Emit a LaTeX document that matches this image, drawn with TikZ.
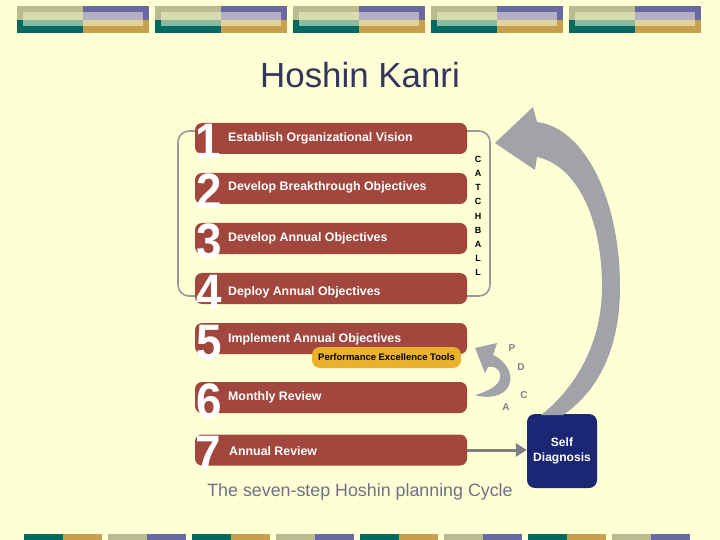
\documentclass[tikz,border=0pt]{standalone}
\usepackage{fontspec}
\setmainfont{Liberation Sans}
\usetikzlibrary{arrows.meta}
\definecolor{bgcream}{HTML}{FFFFD6}
\definecolor{stepred}{HTML}{A2473D}
\definecolor{navyblue}{HTML}{1B2674}
\definecolor{arrowgrey}{HTML}{A2A3A8}
\definecolor{linkgrey}{HTML}{7E7F84}
\definecolor{toolgold}{HTML}{EAB12A}
\definecolor{titleblue}{HTML}{34355F}
\definecolor{captiongrey}{HTML}{707089}
\definecolor{barkhaki}{HTML}{BABB8F}
\definecolor{barkhakilt}{HTML}{DADAB0}
\definecolor{barpurple}{HTML}{6A68A0}
\definecolor{barpurplelt}{HTML}{B2B0C2}
\definecolor{barteal}{HTML}{006A62}
\definecolor{bartealt}{HTML}{8ABAA2}
\definecolor{bargold}{HTML}{C6A04C}
\definecolor{bargoldlt}{HTML}{E2D29A}
\tikzset{
  stepbox/.style={fill=stepred,rounded corners=7bp,minimum width=272bp,minimum height=31bp,inner sep=0pt},
  steptext/.style={anchor=base west,text=white,inner sep=0pt,font=\bfseries\fontsize{12.4}{14}\selectfont},
  stepnum/.style={anchor=base,text=white,inner sep=0pt,xscale=0.92,font=\bfseries\fontsize{50}{50}\selectfont},
  toolbox/.style={fill=toolgold,rounded corners=8bp,minimum width=149bp,minimum height=21bp,inner sep=0pt,font=\bfseries\fontsize{9.5}{11}\selectfont},
  selfbox/.style={fill=navyblue,rounded corners=8bp,minimum width=70bp,minimum height=74bp,inner sep=0pt,text=white,align=center,font=\bfseries\fontsize{12.1}{15}\selectfont},
  pdca/.style={text=linkgrey,inner sep=0pt,font=\bfseries\fontsize{10}{11}\selectfont},
  linkarrow/.style={draw=linkgrey,line width=3bp,-{Triangle[length=11bp,width=13bp]}},
}
\begin{document}
\begin{tikzpicture}[x=1bp,y=-1bp]
  \fill[bgcream] (0,0) rectangle (720,540);
  \useasboundingbox (0,0) rectangle (720,540);
  % top and bottom bars
  \foreach \x in {17,155,293,431,569}{
    \fill[barkhaki] (\x,6) rectangle ++(66,14);
    \fill[barteal] (\x,20) rectangle ++(66,13);
    \fill[barpurple] (\x+66,6) rectangle ++(66,14);
    \fill[bargold] (\x+66,20) rectangle ++(66,13);
    \fill[barkhakilt] (\x+6,12) rectangle ++(60,8);
    \fill[bartealt] (\x+6,20) rectangle ++(60,6);
    \fill[barpurplelt] (\x+66,12) rectangle ++(60,8);
    \fill[bargoldlt] (\x+66,20) rectangle ++(60,6);
  }
  \foreach \x in {24,192,360,528}{
    \fill[barteal] (\x,534) rectangle ++(39,6);
    \fill[bargold] (\x+39,534) rectangle ++(39,6);
  }
  \foreach \x in {108,276,444,612}{
    \fill[barkhaki] (\x,534) rectangle ++(39,6);
    \fill[barpurple] (\x+39,534) rectangle ++(39,6);
  }
  \node[text=titleblue,anchor=base,inner sep=0pt,font=\fontsize{35}{40}\selectfont] (title) at (360,88) {Hoshin Kanri};
  % catchball bracket
  \draw[draw=linkgrey!80,line width=1.6bp,rounded corners=11bp] (178,131) rectangle (490,296);
  \node[align=center,inner sep=0pt,font=\bfseries\fontsize{9}{14.25}\selectfont] (catchball) at (478,216) {C\\A\\T\\C\\H\\B\\A\\L\\L};
  % steps
  \node[stepbox] (s1) at (331,138.5) {};
  \node[stepbox] (s2) at (331,188.5) {};
  \node[stepbox] (s3) at (331,238.5) {};
  \node[stepbox] (s4) at (331,288.5) {};
  \node[stepbox] (s5) at (331,338.5) {};
  \node[stepbox] (s6) at (331,397.5) {};
  \node[stepbox] (s7) at (331,450) {};
  \node[stepnum] (n1) at (208,159) {1};
  \node[stepnum] (n2) at (209,209) {2};
  \node[stepnum] (n3) at (209,259) {3};
  \node[stepnum] (n4) at (209,309) {4};
  \node[stepnum] (n5) at (209,359) {5};
  \node[stepnum] (n6) at (209,418) {6};
  \node[stepnum] (n7) at (208,470) {7};
  \node[steptext] (t1) at (228,141.7) {Establish Organizational Vision};
  \node[steptext] (t2) at (228,191) {Develop Breakthrough Objectives};
  \node[steptext] (t3) at (228,241.7) {Develop Annual Objectives};
  \node[steptext] (t4) at (228,295) {Deploy Annual Objectives};
  \node[steptext] (t5) at (228,342) {Implement Annual Objectives};
  \node[steptext] (t6) at (228,400.7) {Monthly Review};
  \node[steptext] (t7) at (229,455) {Annual Review};
  \node[toolbox] (tools) at (386.5,357.5) {Performance Excellence Tools};
  % self diagnosis and the cycle arrows
  \node[selfbox] (self) at (562,451) {Self\\Diagnosis};
  \draw[linkarrow] (s7.east) -- (s7.east -| self.west);
  \fill[arrowgrey] (537,122) .. controls (585,128) and (620,200) .. (620,287)
    .. controls (620,350) and (597,392) .. (563,415) -- (541,415)
    .. controls (578,386) and (602,340) .. (602,287)
    .. controls (602,215) and (575,165) .. (537,157)
    -- (535,170) -- (495,143) -- (533,107) -- cycle;
  \fill[arrowgrey] (475,348) -- (497,343) -- (493,355)
    .. controls (508,362) and (516,378) .. (506,390)
    .. controls (498,398) and (485,398) .. (475,395)
    .. controls (490,391) and (502,384) .. (500,374)
    .. controls (498,367) and (493,366) .. (488,367)
    -- (485,373) -- cycle;
  \node[pdca] (p) at (512,348) {P};
  \node[pdca] (d) at (521,367) {D};
  \node[pdca] (c) at (524,395) {C};
  \node[pdca] (a) at (506,407) {A};
  \node[text=captiongrey,anchor=base,inner sep=0pt,font=\fontsize{17.9}{20}\selectfont] (caption) at (360,496) {The seven-step Hoshin planning Cycle};
\end{tikzpicture}
\end{document}
